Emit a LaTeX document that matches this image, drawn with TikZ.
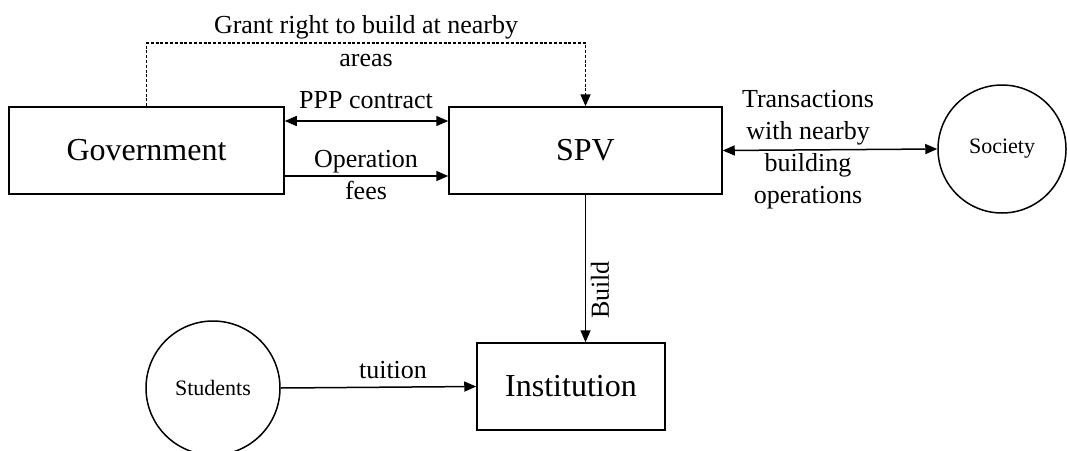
\documentclass[tikz,border=0pt]{standalone}
\usepackage{fontspec}
\setmainfont{Liberation Serif}
\usetikzlibrary{arrows.meta}
\begin{document}
\begin{tikzpicture}[x=1pt,y=-1pt,
  box/.style={draw,line width=1.5pt,inner sep=0pt,font=\fontsize{32}{38}\selectfont},
  circ/.style={draw,line width=1.5pt,circle,inner sep=0pt,font=\fontsize{22}{26}\selectfont},
  lbl/.style={font=\fontsize{26}{32}\selectfont,align=center,inner sep=0pt},
  conn/.style={line width=1.5pt,-{Triangle[length=12pt,width=10pt]}},
  biconn/.style={line width=1.5pt,{Triangle[length=12pt,width=10pt]}-{Triangle[length=12pt,width=10pt]}},
  dotconn/.style={line width=1.8pt,dash pattern=on 3pt off 1.8pt,-{Triangle[length=12pt,width=10pt]}}]
\useasboundingbox (0,0) rectangle (1067,450);
\node[box,minimum width=275pt,minimum height=87pt] (gov) at (146.5,150.5) {Government};
\node[box,minimum width=273pt,minimum height=87pt] (spv) at (585.5,150.5) {SPV};
\node[box,minimum width=188pt,minimum height=87pt] (inst) at (571,386.5) {Institution};
\node[circ,minimum size=128pt] (soc) at (1002,149) {Society};
\node[circ,minimum size=134pt] (stu) at (213,388) {Students};
\draw[dotconn] (gov.north) -- ++(0,-63) -| (spv.north);
\node[lbl] (grant) at (366,41) {Grant right to build at nearby\\[1pt]areas};
\draw[biconn] ([yshift=29.5pt]gov.east) -- ([yshift=29.5pt]spv.west);
\node[lbl] (ppp) at (366,100) {PPP contract};
\draw[conn] ([yshift=-25.5pt]gov.east) -- ([yshift=-25.5pt]spv.west);
\node[lbl] (opf) at (366,175) {Operation\\fees};
\draw[biconn] (spv.east) -- (soc.west);
\node[lbl] (trans) at (808,150) {Transactions\\with nearby\\building\\operations};
\draw[conn] (spv.south) -- (spv.south |- inst.north);
\node[lbl,rotate=90] (build) at (600,290) {Build};
\draw[conn] (stu.east) -- (inst.west);
\node[lbl] (tuit) at (393,370) {tuition};
\end{tikzpicture}
\end{document}
